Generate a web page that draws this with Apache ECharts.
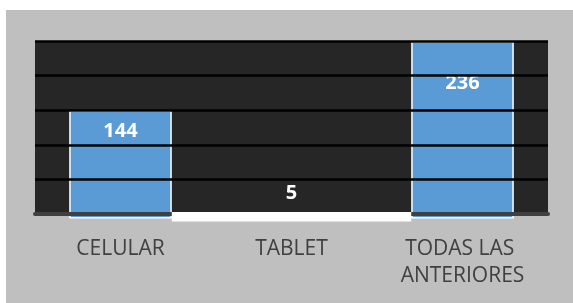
<!DOCTYPE html>
<html>
<head>
<meta charset="utf-8">
<script src="https://cdn.jsdelivr.net/npm/echarts@6/dist/echarts.min.js"></script>
<style>
  html, body { margin: 0; padding: 0; background: #fff; }
  #chart { position: absolute; left: 6px; top: 10px; width: 567px; height: 293px; background: #bfbfbf; }
</style>
</head>
<body>
<div id="chart"></div>
<script>
const categories = ["CELULAR", "TABLET", "TODAS LAS ANTERIORES"];
const values = [144, 5, 236];
// eje vertical (sin etiquetas en el original)
const yMin = 6;
const yMax = 236;
const gridValues = [52, 98, 144, 190, 236];

const chart = echarts.init(document.getElementById("chart"));

// desplazamiento de cada etiqueta de valor
const labelCfg = [
  { position: "insideTop", distance: 11 },
  { position: "top", distance: 11 },
  { position: "insideTop", distance: 32 },
];

chart.setOption({
  animation: false,
  textStyle: { fontFamily: "Open Sans" },
  grid: {
    left: 29,
    right: 25,
    top: 31,
    bottom: 89,
    show: true,
    backgroundColor: "#262626",
    borderWidth: 0,
  },
  xAxis: {
    type: "category",
    data: categories,
    z: 3,
    axisLine: { show: true, lineStyle: { color: "#404040", width: 4 } },
    axisTick: { show: false },
    axisLabel: {
      interval: 0,
      color: "#404040",
      fontSize: 21,
      lineHeight: 27,
      margin: 22,
      width: 160,
      overflow: "break",
    },
  },
  yAxis: {
    type: "value",
    min: yMin,
    max: yMax,
    show: false,
    splitLine: { show: false },
  },
  series: [
    {
      type: "bar",
      barWidth: "60%",
      clip: false,
      data: values.map((v, i) => ({
        value: v,
        itemStyle: i === 1 ? { color: "transparent", borderWidth: 0 } : undefined,
        label: labelCfg[i],
      })),
      itemStyle: { color: "#5b9bd5", borderColor: "#ffffff", borderWidth: 1.5 },
      label: {
        show: true,
        color: "#ffffff",
        fontWeight: "bold",
        fontSize: 20,
        lineHeight: 20,
      },
      markLine: {
        silent: true,
        symbol: "none",
        z: 5,
        label: { show: false },
        lineStyle: { color: "#000000", width: 2.5, type: "solid" },
        data: gridValues.map((v) => ({ yAxis: v })),
      },
    },
    {
      // franja blanca bajo el eje para TABLET
      type: "custom",
      z: 4,
      data: [[1, values[1]]],
      renderItem: (params, api) => {
        const c = api.coord([api.value(0), api.value(1)]);
        const base = api.coord([api.value(0), yMin])[1];
        const band = api.size([1, 0])[0];
        return {
          type: "rect",
          shape: {
            x: c[0] - band * 0.7,
            y: base - 2,
            width: band * 1.4,
            height: Math.max(c[1] - base + 2, 9.5),
          },
          style: { fill: "#ffffff" },
        };
      },
    },
  ],
});
</script>
</body>
</html>
